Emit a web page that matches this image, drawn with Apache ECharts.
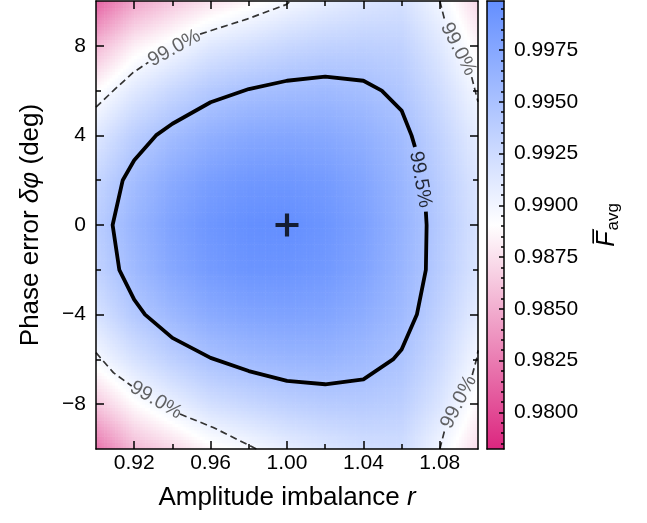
<!DOCTYPE html>
<html><head><meta charset="utf-8">
<script src="https://cdn.jsdelivr.net/npm/echarts@6/dist/echarts.min.js"></script>
<style>html,body{margin:0;padding:0;background:#fff}#c{width:647px;height:523px}</style>
</head><body><div id="c"></div>
<script>
// ---- data ----
const xValues = [0.90, 0.92, 0.94, 0.96, 0.98, 1.00, 1.02, 1.04, 1.06, 1.08, 1.10];
const yValues = [-10, -8, -6, -4, -2, 0, 2, 4, 6, 8, 10];
// fidelity rows, one per y value (bottom to top), columns follow xValues
const rowYm10 = [0.9820, 0.9855, 0.9870, 0.9886, 0.9895, 0.9906, 0.9914, 0.9921, 0.9923, 0.9900, 0.9872];
const rowYm8  = [0.9862, 0.9888, 0.9905, 0.9921, 0.9929, 0.9936, 0.9940, 0.9941, 0.9937, 0.9916, 0.9886];
const rowYm6  = [0.9896, 0.9918, 0.9936, 0.9950, 0.9957, 0.9961, 0.9962, 0.9957, 0.9948, 0.9926, 0.9898];
const rowYm4  = [0.9918, 0.9943, 0.9959, 0.9972, 0.9978, 0.9980, 0.9978, 0.9970, 0.9957, 0.9934, 0.9909];
const rowYm2  = [0.9933, 0.9957, 0.9975, 0.9987, 0.9993, 0.9993, 0.9989, 0.9979, 0.9962, 0.9940, 0.9916];
const rowY0   = [0.9938, 0.9962, 0.9980, 0.9992, 0.9998, 0.9999, 0.9993, 0.9982, 0.9964, 0.9942, 0.9918];
const rowY2   = [0.9930, 0.9954, 0.9972, 0.9984, 0.9990, 0.9991, 0.9987, 0.9977, 0.9961, 0.9939, 0.9915];
const rowY4   = [0.9913, 0.9938, 0.9955, 0.9967, 0.9974, 0.9976, 0.9974, 0.9967, 0.9955, 0.9933, 0.9908];
const rowY6   = [0.9889, 0.9912, 0.9929, 0.9943, 0.9951, 0.9955, 0.9957, 0.9953, 0.9945, 0.9924, 0.9898];
const rowY8   = [0.9855, 0.9883, 0.9897, 0.9913, 0.9921, 0.9929, 0.9934, 0.9936, 0.9934, 0.9913, 0.9885];
const rowY10  = [0.9812, 0.9845, 0.9862, 0.9876, 0.9886, 0.9898, 0.9907, 0.9915, 0.9920, 0.9900, 0.9870];
const fidelityRows = [rowYm10, rowYm8, rowYm6, rowYm4, rowYm2, rowY0, rowY2, rowY4, rowY6, rowY8, rowY10];

const colorRange = [0.97823, 0.99987];
const xTicks = [0.92, 0.96, 1.00, 1.04, 1.08];
const xMinorTicks = [0.94, 0.98, 1.02, 1.06];
const yTicks = [-8, -4, 0, 4, 8];
const yMinorTicks = [-6, -2, 2, 6];
const cbTicks = [0.9800, 0.9825, 0.9850, 0.9875, 0.9900, 0.9925, 0.9950, 0.9975];
const cbMinorTicks = [0.9785, 0.9790, 0.9795, 0.9805, 0.9810, 0.9815, 0.9820, 0.9830, 0.9835, 0.9840, 0.9845,
  0.9855, 0.9860, 0.9865, 0.9870, 0.9880, 0.9885, 0.9890, 0.9895, 0.9905, 0.9910, 0.9915, 0.9920,
  0.9930, 0.9935, 0.9940, 0.9945, 0.9955, 0.9960, 0.9965, 0.9970, 0.9980, 0.9985, 0.9990, 0.9995];

const contour995 = [[1.0727,0.6],[1.0731,0],[1.0727,-2],[1.068,-4],[1.06,-5.56],[1.0555,-6],[1.04,-6.89],[1.02,-7.11],
  [1.00,-6.96],[0.98,-6.52],[0.96,-5.93],[0.94,-5.04],[0.9257,-4],[0.92,-3.33],[0.9122,-2],[0.9087,0],[0.914,2],
  [0.92,2.89],[0.9314,4],[0.94,4.52],[0.96,5.48],[0.98,6.07],[1.00,6.44],[1.02,6.62],[1.04,6.44],[1.0496,6.0],
  [1.06,5.11],[1.0652,4],[1.067,3.48]];
const contour990Segments = [
  [[0.90,5.26],[0.9091,6.0],[0.9195,6.81],[0.9274,7.26]],
  [[0.9545,8.52],[0.9649,8.81],[0.979,9.19],[0.9998,9.85],[1.002,10]],
  [[1.080,10],[1.0827,9.1]],
  [[1.0967,6.6],[1.0985,6.0],[1.10,5.5]],
  [[0.90,-5.7],[0.9091,-6.59],[0.9187,-7.19]],
  [[0.944,-8.44],[0.9614,-9.04],[0.984,-10]],
  [[1.080,-10],[1.0827,-9.11]],
  [[1.097,-6.7],[1.0995,-5.9],[1.10,-5.6]]
];
const contourLabels = [
  [0.941, 7.89, '99.0%', 29],
  [1.0897, 7.85, '99.0%', -63],
  [0.9314, -7.82, '99.0%', -30],
  [1.0899, -7.9, '99.0%', 63],
  [1.0698, 2.03, '99.5%', -80]
];
const optimumPoint = [1.00, 0];

// ---- drawing ----
const FONT = '"Liberation Sans", Arimo, Arial, sans-serif';
const C_LOW = [220, 38, 127], C_MID = [255, 255, 255], C_HIGH = [100, 143, 255];
function cmap(v) {
  let t = (v - colorRange[0]) / (colorRange[1] - colorRange[0]);
  t = Math.max(0, Math.min(1, t));
  let a, b, s;
  if (t < 0.5) { a = C_LOW; b = C_MID; s = t / 0.5; } else { a = C_MID; b = C_HIGH; s = (t - 0.5) / 0.5; }
  return 'rgb(' + Math.round(a[0] + (b[0] - a[0]) * s) + ',' + Math.round(a[1] + (b[1] - a[1]) * s) + ',' + Math.round(a[2] + (b[2] - a[2]) * s) + ')';
}

const cells = [];
for (let j = 0; j < yValues.length - 1; j++) {
  for (let i = 0; i < xValues.length - 1; i++) {
    cells.push([xValues[i], yValues[j], xValues[i + 1], yValues[j + 1],
      fidelityRows[j][i], fidelityRows[j][i + 1], fidelityRows[j + 1][i], fidelityRows[j + 1][i + 1]]);
  }
}

const SUB = 14;
function renderCell(params, api) {
  const p0 = api.coord([api.value(0), api.value(1)]);
  const p1 = api.coord([api.value(2), api.value(3)]);
  const v00 = api.value(4), v10 = api.value(5), v01 = api.value(6), v11 = api.value(7);
  const w = (p1[0] - p0[0]) / SUB, h = (p0[1] - p1[1]) / SUB;
  const children = [];
  for (let a = 0; a < SUB; a++) {
    for (let b = 0; b < SUB; b++) {
      const u = (a + 0.5) / SUB, t = (b + 0.5) / SUB;
      const v = v00 * (1 - u) * (1 - t) + v10 * u * (1 - t) + v01 * (1 - u) * t + v11 * u * t;
      children.push({
        type: 'rect',
        shape: { x: p0[0] + a * w, y: p0[1] - (b + 1) * h, width: w + 0.6, height: h + 0.6 },
        style: { fill: cmap(v) }
      });
    }
  }
  return { type: 'group', children: children };
}

function renderColorbar(params, api) {
  const p0 = api.coord([0, api.value(0)]);
  const p1 = api.coord([1, api.value(1)]);
  return {
    type: 'rect',
    shape: { x: p0[0], y: p1[1], width: p1[0] - p0[0], height: p0[1] - p1[1] },
    style: {
      fill: new echarts.graphic.LinearGradient(0, 0, 0, 1, [
        { offset: 0, color: 'rgb(100,143,255)' },
        { offset: 0.5, color: 'rgb(255,255,255)' },
        { offset: 1, color: 'rgb(220,38,127)' }
      ])
    }
  };
}

const lineBlack = { color: '#000', width: 1.5 };
function tickAxis(kind, grid, pos, ticks, len, extra) {
  const ax = Object.assign({
    gridIndex: grid, type: 'value', position: pos, z: 10,
    axisLine: { show: false, onZero: false },
    axisTick: { show: true, inside: true, length: len, lineStyle: lineBlack, customValues: ticks },
    axisLabel: { show: false },
    splitLine: { show: false }
  }, extra || {});
  return ax;
}

const xr = { min: 0.90, max: 1.10 };
const yr = { min: -10, max: 10 };
const cbr = { min: colorRange[0], max: colorRange[1] };

const option = {
  animation: false,
  backgroundColor: '#fff',
  grid: [
    { left: 96, top: 1, width: 382, height: 448 },
    { left: 487, top: 1, width: 17, height: 448 }
  ],
  xAxis: [
    tickAxis('x', 0, 'bottom', xTicks, 8, Object.assign({}, xr, {
      axisLine: { show: true, onZero: false, lineStyle: lineBlack },
      axisLabel: { show: true, customValues: xTicks, formatter: v => v.toFixed(2), fontSize: 21, color: '#000', fontFamily: FONT, margin: 4 },
      name: '{n|Amplitude imbalance }{i|r}', nameLocation: 'middle', nameGap: 36,
      nameTextStyle: { fontSize: 26, color: '#000', fontFamily: FONT,
        rich: { n: { fontSize: 26, fontFamily: FONT, color: '#000' }, i: { fontSize: 26, fontFamily: FONT, fontStyle: 'italic', color: '#000' } } }
    })),
    tickAxis('x', 0, 'bottom', xMinorTicks, 5, Object.assign({}, xr)),
    tickAxis('x', 0, 'top', xTicks, 8, Object.assign({}, xr, { axisLine: { show: true, onZero: false, lineStyle: lineBlack } })),
    tickAxis('x', 0, 'top', xMinorTicks, 5, Object.assign({}, xr)),
    { gridIndex: 1, type: 'value', min: 0, max: 1, position: 'bottom', z: 10, axisLine: { show: true, onZero: false, lineStyle: lineBlack }, axisTick: { show: false }, axisLabel: { show: false }, splitLine: { show: false } },
    { gridIndex: 1, type: 'value', min: 0, max: 1, position: 'top', z: 10, axisLine: { show: true, onZero: false, lineStyle: lineBlack }, axisTick: { show: false }, axisLabel: { show: false }, splitLine: { show: false } }
  ],
  yAxis: [
    tickAxis('y', 0, 'left', yTicks, 8, Object.assign({}, yr, {
      axisLine: { show: true, onZero: false, lineStyle: lineBlack },
      axisLabel: { show: true, customValues: yTicks, formatter: v => (v < 0 ? '\u2212' + Math.abs(v) : String(v)), fontSize: 21, color: '#000', fontFamily: FONT, margin: 10 },
      name: '{n|Phase error }{i|\u03b4\u03c6}{n| (deg)}', nameLocation: 'middle', nameRotate: 90, nameGap: 52,
      nameTextStyle: { fontSize: 26, color: '#000', fontFamily: FONT,
        rich: { n: { fontSize: 26, fontFamily: FONT, color: '#000' }, i: { fontSize: 26, fontFamily: FONT, fontStyle: 'italic', color: '#000' } } }
    })),
    tickAxis('y', 0, 'left', yMinorTicks, 5, Object.assign({}, yr)),
    tickAxis('y', 0, 'right', yTicks, 8, Object.assign({}, yr, { axisLine: { show: true, onZero: false, lineStyle: lineBlack } })),
    tickAxis('y', 0, 'right', yMinorTicks, 5, Object.assign({}, yr)),
    tickAxis('y', 1, 'right', cbTicks, 5, Object.assign({}, cbr, {
      axisLine: { show: true, onZero: false, lineStyle: lineBlack },
      axisLabel: { show: true, customValues: cbTicks, formatter: v => v.toFixed(4), fontSize: 21, color: '#000', fontFamily: FONT, margin: 10 },
      name: '{f|F\u0305}{s|avg}', nameLocation: 'middle', nameRotate: 90, nameGap: 88,
      nameTextStyle: { color: '#000', fontFamily: FONT,
        rich: { f: { fontSize: 25, fontFamily: FONT, fontStyle: 'italic', color: '#000', lineHeight: 30, verticalAlign: 'middle' },
                s: { fontSize: 17, fontFamily: FONT, color: '#000', lineHeight: 30, verticalAlign: 'bottom', padding: [12, 0, 0, 1] } } }
    })),
    tickAxis('y', 1, 'right', cbMinorTicks, 3, Object.assign({}, cbr)),
    { gridIndex: 1, type: 'value', min: cbr.min, max: cbr.max, position: 'left', z: 10, axisLine: { show: true, onZero: false, lineStyle: lineBlack }, axisTick: { show: false }, axisLabel: { show: false }, splitLine: { show: false } }
  ],
  series: [
    { type: 'custom', xAxisIndex: 0, yAxisIndex: 0, renderItem: renderCell, data: cells, clip: true, encode: { x: [0, 2], y: [1, 3] }, z: 1, silent: true },
    { type: 'custom', xAxisIndex: 4, yAxisIndex: 4, renderItem: renderColorbar, data: [colorRange], encode: { y: [0, 1] }, z: 1, silent: true },
    { type: 'line', xAxisIndex: 0, yAxisIndex: 0, data: contour995, symbol: 'none', smooth: false, clip: true, z: 5,
      lineStyle: { color: '#000', width: 3.8, cap: 'butt', join: 'round' } }
  ].concat(contour990Segments.map(seg => ({
    type: 'line', xAxisIndex: 0, yAxisIndex: 0, data: seg, symbol: 'none', smooth: false, clip: true, z: 5,
    lineStyle: { color: '#333', width: 1.7, type: [7, 4] }
  }))).concat([
    { type: 'scatter', xAxisIndex: 0, yAxisIndex: 0, symbolSize: 1, z: 6, silent: true,
      itemStyle: { color: 'rgba(0,0,0,0)' },
      data: contourLabels.map(l => ({
        value: [l[0], l[1]], name: l[2],
        label: { show: true, position: 'inside', formatter: l[2], rotate: l[3], fontSize: 20, fontFamily: FONT,
          color: l[2] === '99.5%' ? '#000' : '#3c3c3c' }
      })) },
    { type: 'scatter', xAxisIndex: 0, yAxisIndex: 0, z: 7, silent: true,
      symbol: 'path://M9,0H13V9H22V13H13V22H9V13H0V9H9Z', symbolSize: 23,
      itemStyle: { color: '#000' }, data: [optimumPoint] }
  ])
};

const chart = echarts.init(document.getElementById('c'), null, { renderer: 'canvas' });
chart.setOption(option);
</script>
</body></html>
